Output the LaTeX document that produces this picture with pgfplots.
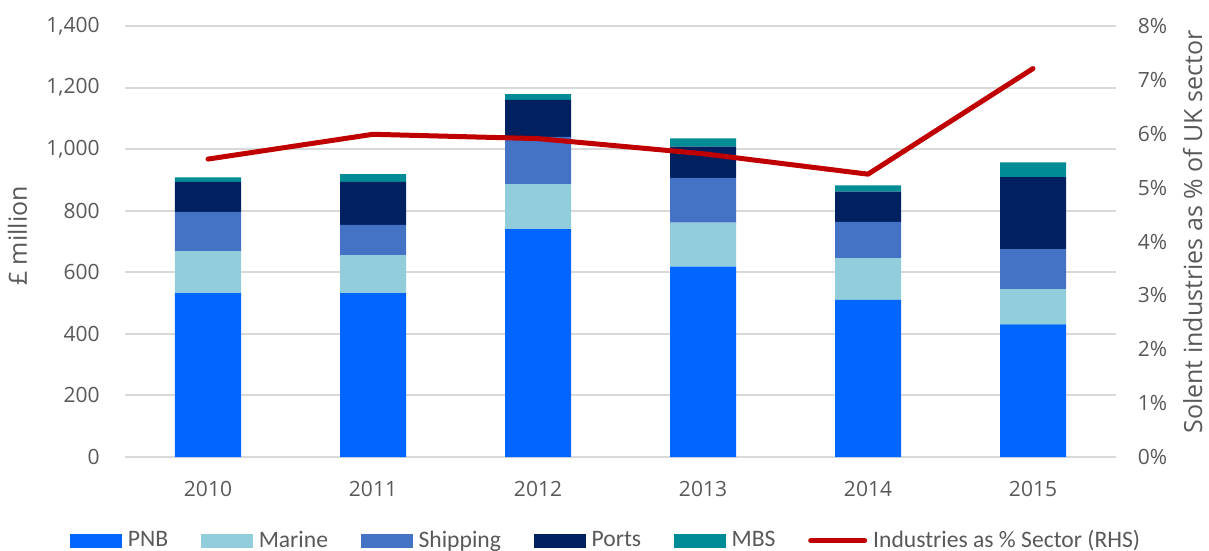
\documentclass[border=0pt]{standalone}
\usepackage{fontspec}
\setmainfont{Open Sans}
\newfontfamily\legfont{Carlito}
\usepackage{pgfplots}
\pgfplotsset{compat=1.18}

\definecolor{pnb}{HTML}{0066FF}
\definecolor{marine}{HTML}{92CDDC}
\definecolor{shipping}{HTML}{4472C4}
\definecolor{ports}{HTML}{002060}
\definecolor{mbs}{HTML}{008C96}
\definecolor{share}{HTML}{C00000}
\definecolor{gridgray}{HTML}{D9D9D9}
\definecolor{textgray}{HTML}{595959}

\pgfplotsset{
  common/.style={
    scale only axis, width=495pt, height=215.5pt,
    at={(0,0)}, anchor=south west,
    xmin=-0.5, xmax=5.5,
    major tick length=0pt,
    tick label style={text=textgray, font=\fontsize{10.5}{12}\selectfont},
    /pgf/number format/assume math mode=true,
  },
  barleg/.style={legend image code/.code={\fill[##1] (0pt,-3.5pt) rectangle (26pt,3.5pt);}},
}

\begin{document}
\begin{tikzpicture}
\begin{axis}[
  common,
  ybar stacked, bar width=33pt,
  ymin=0, ymax=1400, ytick={0,200,...,1400},
  xtick={0,...,5}, xticklabels={2010,2011,2012,2013,2014,2015},
  xticklabel style={anchor=center, yshift=-16pt},
  yticklabel style={anchor=east, inner sep=0pt, xshift=-12.75pt,
    /pgf/number format/1000 sep={,}},
  ymajorgrids, grid style={gridgray, line width=1pt},
  axis x line*=bottom, axis y line*=left,
  x axis line style={gridgray, line width=1pt, -},
  y axis line style={draw=none},
  ylabel={£ million},
  every axis y label/.style={at={(axis description cs:-0.109,0.513)}, rotate=90, anchor=center,
    text=textgray, font=\fontsize{12.5}{14}\selectfont},
  legend style={at={(axis description cs:0.4874,-0.194)}, anchor=center, draw=none,
    font=\legfont\fontsize{11.8}{13}\selectfont, text=textgray,
    nodes={inner xsep=3pt},
    /tikz/every even column/.append style={column sep=13.3pt}},
  legend columns=-1,
]
\addplot+[barleg, fill=pnb, draw=none] coordinates {(0,532) (1,532) (2,740) (3,618) (4,510) (5,431)};
\addlegendentry{PNB}
\addplot+[barleg, fill=marine, draw=none] coordinates {(0,137) (1,124) (2,146) (3,143) (4,136) (5,114)};
\addlegendentry{Marine}
\addplot+[barleg, fill=shipping, draw=none] coordinates {(0,127) (1,98) (2,154) (3,146) (4,118) (5,130)};
\addlegendentry{Shipping}
\addplot+[barleg, fill=ports, draw=none] coordinates {(0,98) (1,140) (2,120) (3,101) (4,98) (5,234)};
\addlegendentry{Ports}
\addplot+[barleg, fill=mbs, draw=none] coordinates {(0,14) (1,25) (2,19) (3,27) (4,20) (5,48)};
\addlegendentry{MBS}
\addlegendimage{legend image code/.code={\draw[share, line width=2.5pt, line cap=round] (0pt,0pt) -- (27pt,0pt);}}
\addlegendentry{Industries as \% Sector (RHS)}
\end{axis}

\begin{axis}[
  common,
  ymin=0, ymax=8, ytick={0,...,8},
  axis x line=none, axis y line*=right,
  y axis line style={draw=none},
  yticklabel={\pgfmathprintnumber{\tick}\%},
  yticklabel style={anchor=west, inner sep=0pt, xshift=11pt},
  ylabel={Solent industries as \% of UK sector},
  every axis y label/.style={at={(axis description cs:1.078,0.522)}, rotate=90, anchor=center,
    text=textgray, font=\fontsize{12.5}{14}\selectfont},
]
\addplot[share, line width=2.5pt, line join=round, line cap=round] coordinates {
  (0,5.53) (1,5.99) (2,5.91) (3,5.63) (4,5.25) (5,7.21)};
\end{axis}

\pgfresetboundingbox
\useasboundingbox (-62.75pt,-47pt) rectangle (541.75pt,228.5pt);
\end{tikzpicture}
\end{document}
